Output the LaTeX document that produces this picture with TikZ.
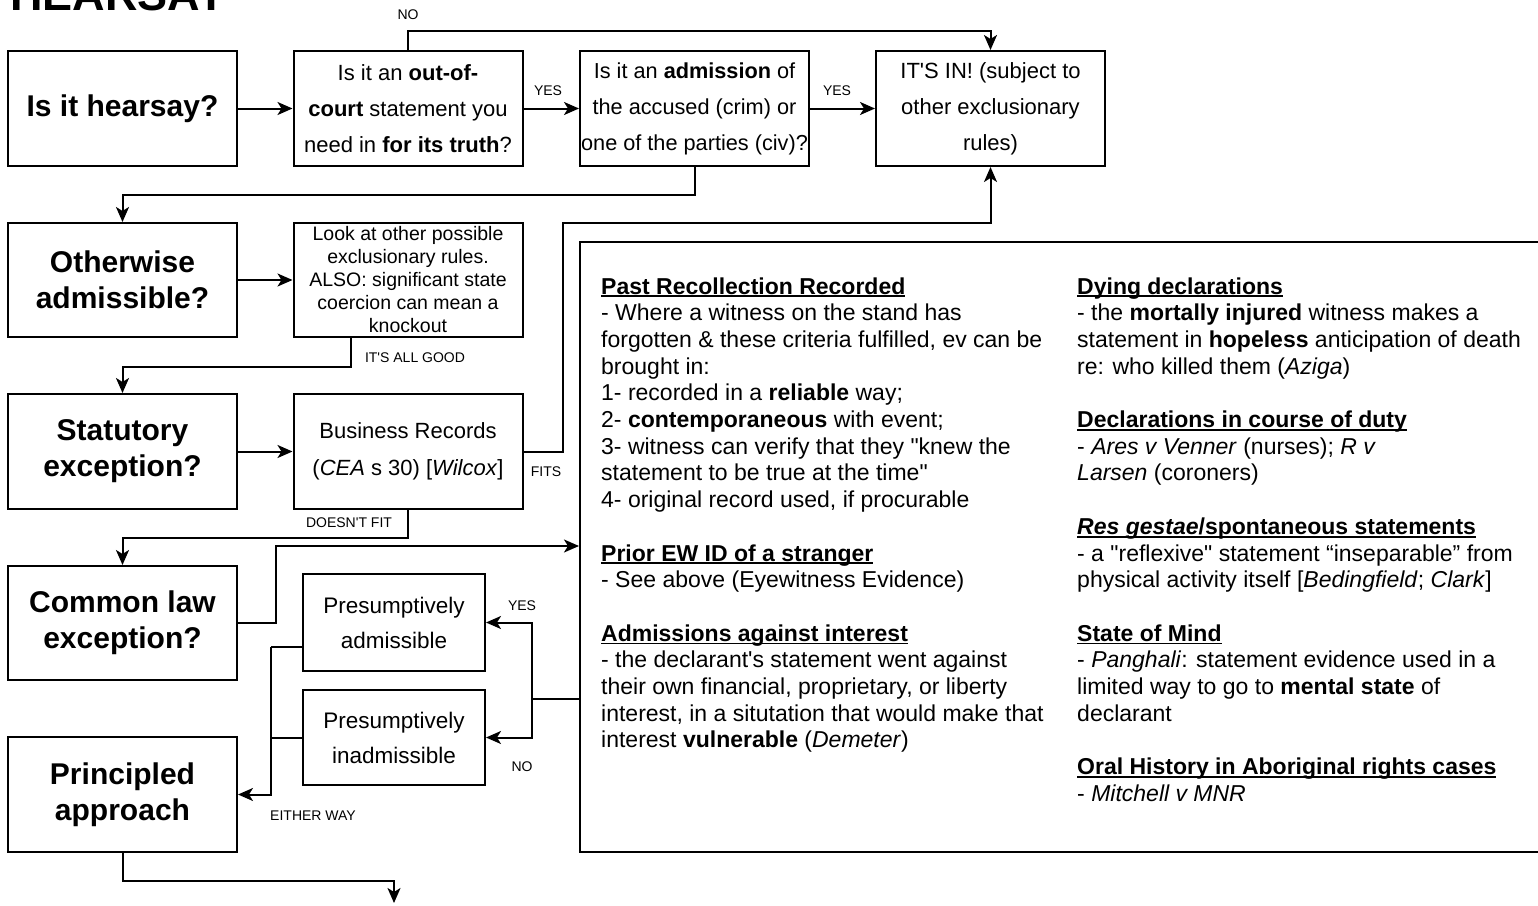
\documentclass[tikz,border=0pt]{standalone}
\usepackage{fontspec}
\setmainfont{Liberation Sans}[Ligatures=TeXOff]
\usetikzlibrary{arrows.meta,calc}
\newcommand\hd[1]{\leavevmode\setbox0=\hbox{\bfseries #1}\rlap{\rule[-3.2pt]{\wd0}{1.8pt}}\box0}
\begin{document}
\begin{tikzpicture}[x=1pt,y=-1pt,
  box/.style={draw, line width=2pt, inner sep=0pt, align=center},
  qbox/.style={box, minimum width=229pt, minimum height=115pt, font=\bfseries\fontsize{30}{36}\selectfont},
  tbox/.style={box, minimum width=229pt, minimum height=115pt, font=\fontsize{22}{36}\selectfont},
  pbox/.style={box, minimum width=182pt, minimum height=96pt, font=\fontsize{22.5}{35}\selectfont},
  lbl/.style={inner sep=0pt, font=\fontsize{14}{16}\selectfont},
  conn/.style={line width=2pt},
  arr/.style={conn, -{Stealth[length=15pt,width=13pt,inset=4pt]}},
  col/.style={anchor=base west, inner sep=0pt},
]
\fill[white] (0,0) rectangle (1538,905);
\useasboundingbox (0,0) rectangle (1538,905);

\node[anchor=base west, inner sep=0pt, font=\bfseries\fontsize{45}{45}\selectfont] (title) at (10,10) {HEARSAY};

% flowchart boxes
\node[qbox] (q1) at (122.5,108.5) {Is it hearsay?};
\node[tbox] (q2) at (408,108.5) {Is it an \textbf{out-of-}\\\textbf{court} statement you\\need in \textbf{for its truth}?};
\node[tbox, font=\fontsize{21.7}{36}\selectfont] (q3) at (694.5,108.5) {Is it an \textbf{admission} of\\the accused (crim) or\\one of the parties (civ)?};
\node[tbox] (inbox) at (990.5,108.5) {IT'S IN! (subject to\\other exclusionary\\rules)};

\node[qbox, minimum height=114pt] (oa) at (122.5,280) {Otherwise\\admissible?};
\node[tbox, minimum height=114pt, font=\fontsize{19.5}{23}\selectfont] (look) at (408,280) {Look at other possible\\exclusionary rules.\\ALSO: significant state\\coercion can mean a\\knockout};

\node[qbox] (stat) at (122.5,451.5) {Statutory\\exception?};
\node[tbox, font=\fontsize{22}{37}\selectfont] (bus) at (408,451.5) {Business Records\\(\textit{CEA} s 30) [\textit{Wilcox}]};

\node[qbox, minimum height=114pt] (cl) at (122.5,623) {Common law\\exception?};
\node[pbox, minimum height=97pt] (padm) at (394,622.5) {Presumptively\\admissible};
\node[pbox, minimum height=95pt] (pinadm) at (394,737.5) {Presumptively\\inadmissible};
\node[qbox] (pa) at (122.5,794.5) {Principled\\approach};

% big box
\node[draw, line width=2pt, minimum width=965pt, minimum height=610pt, inner sep=0pt] (big) at (1062.5,547) {};

\node[col] (colL) at (601,294) {\parbox[t]{470pt}{\raggedright\fontsize{23}{26.7}\selectfont
\hd{Past Recollection Recorded}\\
- Where a witness on the stand has\\
forgotten \& these criteria fulfilled, ev can be\\
brought in:\\
1- recorded in a \textbf{reliable} way;\\
2- \textbf{contemporaneous} with event;\\
3- witness can verify that they "knew the\\
statement to be true at the time"\\
4- original record used, if procurable\\
\mbox{}\\
\hd{Prior EW ID of a stranger}\\
- See above (Eyewitness Evidence)\\
\mbox{}\\
\hd{Admissions against interest}\\
- the declarant's statement went against\\
their own financial, proprietary, or liberty\\
interest, in a situtation that would make that\\
interest \textbf{vulnerable} (\textit{Demeter})}};

\node[col] (colR) at (1077,294) {\parbox[t]{470pt}{\raggedright\fontsize{23}{26.7}\selectfont
\hd{Dying declarations}\\
- the \textbf{mortally injured} witness makes a\\
statement in \textbf{hopeless} anticipation of death\\
re: who killed them (\textit{Aziga})\\
\mbox{}\\
\hd{Declarations in course of duty}\\
- \textit{Ares v Venner} (nurses); \textit{R v}\\
\textit{Larsen} (coroners)\\
\mbox{}\\
\hd{\textit{Res gestae}/spontaneous statements}\\
- a "reflexive" statement “inseparable” from\\
physical activity itself [\textit{Bedingfield}; \textit{Clark}]\\
\mbox{}\\
\hd{State of Mind}\\
- \textit{Panghali}: statement evidence used in a\\
limited way to go to \textbf{mental state} of\\
declarant\\
\mbox{}\\
\hd{Oral History in Aboriginal rights cases}\\
- \textit{Mitchell v MNR}}};

% connectors
\draw[arr] (q1.east) -- (q2.west);
\draw[arr] (q2.east) -- (q3.west);
\draw[arr] (q3.east) -- (inbox.west);
\draw[arr] (q2.north) -- ++(0,-19) -| (inbox.north);
\draw[arr] (q3.south) -- ++(0,27.5) -| (oa.north);
\draw[arr] (oa.east) -- (look.west);
\draw[arr] ([xshift=-57pt]look.south) -- ++(0,29) -| (stat.north);
\draw[arr] (stat.east) -- (bus.west);
\draw[arr] (bus.east) -- ++(39,0) -- ++(0,-228.5) -| (inbox.south);
\draw[arr] (bus.south) -- ++(0,28) -| (cl.north);
\draw[arr] (cl.east) -- ++(38,0) |- ([yshift=-305pt]big.north west);
\coordinate (j) at ($([yshift=-458pt]big.north west)+(-47,0)$);
\draw[conn] ([yshift=-458pt]big.north west) -- (j);
\draw[arr] (j) |- (padm.east);
\draw[arr] (j) |- (pinadm.east);
\draw[conn] ([yshift=-24.5pt]padm.west) -- ++(-31,0) coordinate (k);
\draw[arr] (k) |- (pa.east);
\draw[conn] (pinadm.west) -- (pinadm.west -| k);
\coordinate (out) at (394,903);
\draw[arr] (pa.south) -- ++(0,28) -| (out);

% labels
\node[lbl] (lno1) at (408,15) {NO};
\node[lbl] (lyes1) at (548,91) {YES};
\node[lbl] (lyes2) at (837,91) {YES};
\node[lbl] (lgood) at (415,358) {IT'S ALL GOOD};
\node[lbl] (lfits) at (546,472) {FITS};
\node[lbl] (lnfit) at (349,523) {DOESN'T FIT};
\node[lbl] (lyes3) at (522,606) {YES};
\node[lbl] (lno2) at (522,767) {NO};
\node[lbl] (leither) at (313,816) {EITHER WAY};
\end{tikzpicture}
\end{document}
